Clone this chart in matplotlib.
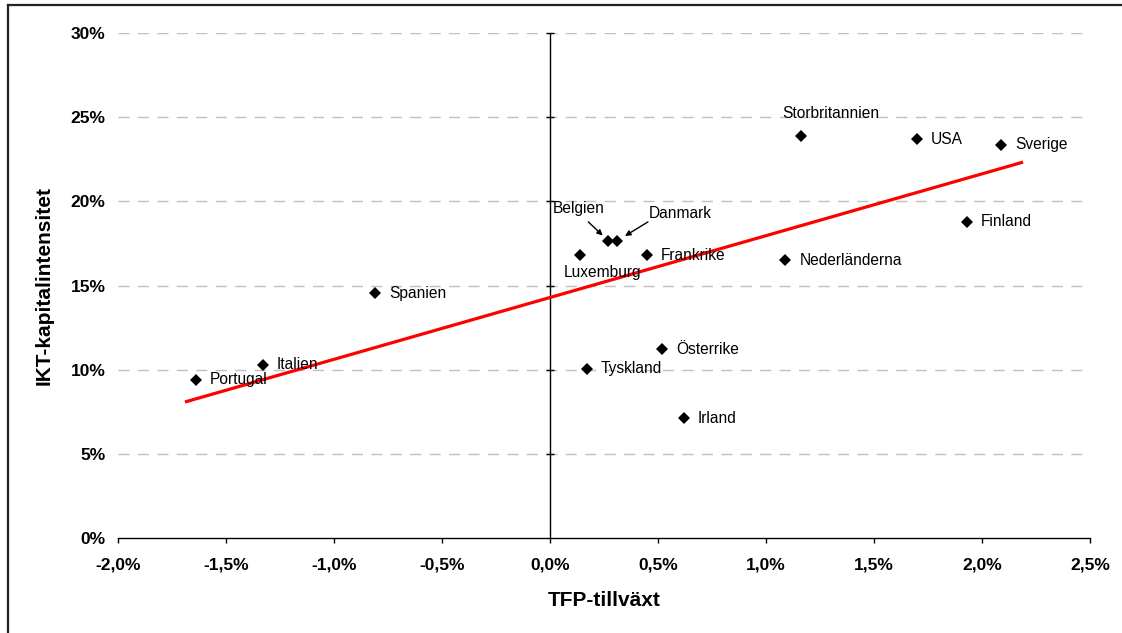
import matplotlib
matplotlib.use("Agg")
import matplotlib.pyplot as plt
from matplotlib.lines import Line2D
import numpy as np

plt.rcParams['font.family'] = ['Liberation Sans', 'DejaVu Sans']

countries = ["Portugal", "Italien", "Spanien", "Luxemburg", "Belgien", "Danmark",
             "Frankrike", "Tyskland", "Österrike", "Irland", "Nederländerna",
             "Storbritannien", "USA", "Sverige", "Finland"]
tfp_growth = [-1.64, -1.33, -0.81, 0.14, 0.27, 0.31, 0.45, 0.17, 0.52, 0.62, 1.09,
              1.16, 1.70, 2.09, 1.93]
ikt_intensity = [9.4, 10.3, 14.55, 16.8, 17.65, 17.65, 16.8, 10.05, 11.2, 7.1, 16.5,
                 23.9, 23.7, 23.35, 18.8]
trend_x = [-1.69, 2.19]
trend_y = [8.08, 22.33]
x_ticks = [-2.0, -1.5, -1.0, -0.5, 0.0, 0.5, 1.0, 1.5, 2.0, 2.5]
y_ticks = [0, 5, 10, 15, 20, 25, 30]
x_label = "TFP-tillväxt"
y_label = "IKT-kapitalintensitet"

# label placement (offset pixels, alignment)
label_pos = {
    "Storbritannien": (30, 22, "center"),
    "Luxemburg": (22, -17, "center"),
    "Belgien": (-30, 32, "center"),
    "Danmark": (63, 27, "center"),
}
arrows = {"Belgien": ((-20, 19), 5.6), "Danmark": ((31, 19), 6.8)}

W, H = 1122, 633
fig = plt.figure(figsize=(W / 100, H / 100), dpi=100)
ax = fig.add_axes([118 / W, 1 - 538 / H, (1090 - 118) / W, (538 - 33) / H])

ax.set_xlim(-2.0, 2.5)
ax.set_ylim(0, 30)

# grid
for yv in y_ticks[1:]:
    ax.axhline(yv, color="#c0c0c0", lw=1.0, dashes=(8, 6), zorder=0)

# spines
for s in ["top", "right", "left"]:
    ax.spines[s].set_visible(False)
ax.spines["bottom"].set_linewidth(1.0)
ax.axvline(0, color="black", lw=1.0, zorder=1)
ax.plot([0] * len(y_ticks[1:]), y_ticks[1:], ls="none", marker="_", ms=5.5,
        mew=1.0, color="black", clip_on=False, zorder=1)

ax.set_xticks(x_ticks)
ax.set_xticklabels([f"{v:.1f}%".replace(".", ",") for v in x_ticks],
                   fontsize=12.5, fontweight="bold")
ax.set_yticks(y_ticks)
ax.set_yticklabels([f"{v}%" for v in y_ticks], fontsize=12.5, fontweight="bold")
ax.tick_params(axis="x", direction="out", length=3.6, width=1.0, pad=10.5)
ax.tick_params(axis="y", length=0, pad=9)

ax.set_xlabel(x_label, fontsize=15, fontweight="bold", labelpad=13)
ax.set_ylabel(y_label, fontsize=15, fontweight="bold", labelpad=12)

# trend line
ax.plot(trend_x, trend_y, color="#ff0000", lw=2.3, zorder=2, solid_capstyle="butt")

# points
ax.plot(tfp_growth, ikt_intensity, ls="none", marker="D", ms=5.8, color="black",
        mew=0, zorder=3)

for name, xv, yv in zip(countries, tfp_growth, ikt_intensity):
    dx, dy, ha = label_pos.get(name, (14, 0, "left"))
    ax.annotate(name, (xv, yv), xytext=(dx, dy), textcoords="offset pixels",
                ha=ha, va="center", fontsize=11.2, zorder=4)
    if name in arrows:
        (tx, ty), shr = arrows[name]
        ax.annotate("", (xv, yv), xytext=(tx, ty), textcoords="offset pixels",
                    arrowprops=dict(arrowstyle="-|>", lw=1.0, color="black",
                                    shrinkA=0, shrinkB=shr, mutation_scale=8))

# outer frame
fl = 8 / W
ft = 1 - 5 / H
fig.add_artist(Line2D([fl, fl], [0, ft], transform=fig.transFigure, color="#222222", lw=1.6))
fig.add_artist(Line2D([fl, 1.01], [ft, ft], transform=fig.transFigure, color="#222222", lw=1.6))

fig.savefig("out.png", dpi=100)
